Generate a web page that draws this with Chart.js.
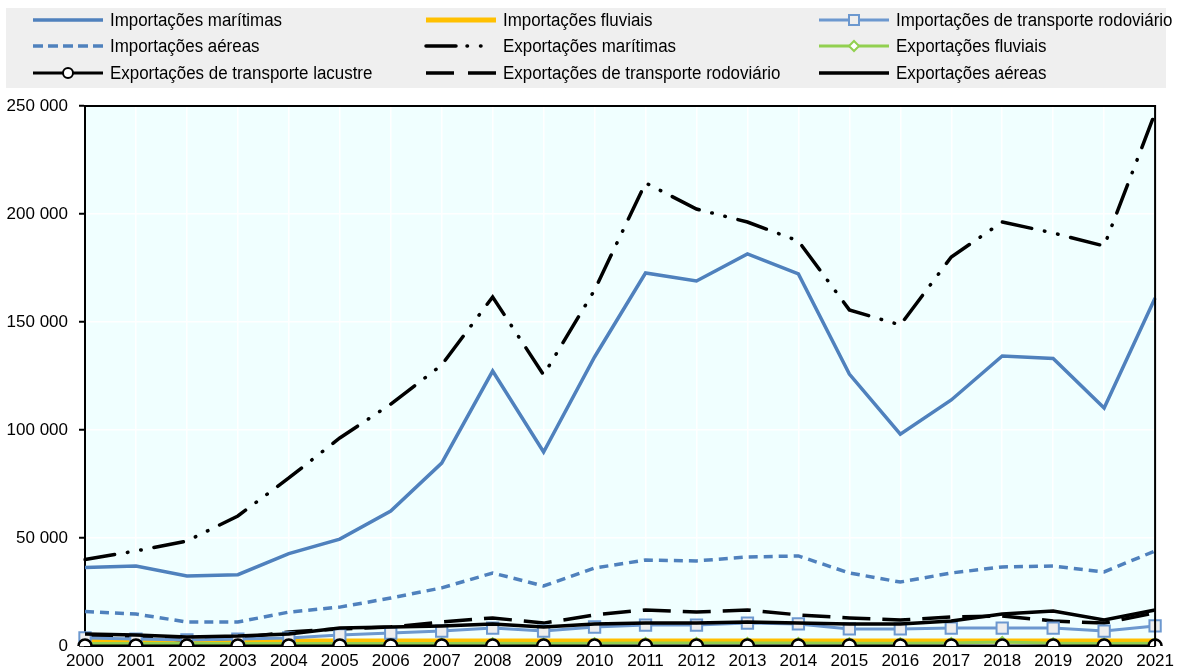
<!DOCTYPE html>
<html>
<head>
<meta charset="utf-8">
<script src="https://cdn.jsdelivr.net/npm/chart.js@4"></script>
<style>
  html, body { margin: 0; padding: 0; background: #fff; }
  #wrap { width: 1179px; height: 669px; position: relative; }
</style>
</head>
<body>
<div id="wrap"><canvas id="tradeChart"></canvas></div>
<script>
const years = ['2000','2001','2002','2003','2004','2005','2006','2007','2008','2009','2010',
  '2011','2012','2013','2014','2015','2016','2017','2018','2019','2020','2021'];

const impMaritimas = [36300, 37000, 32400, 33000, 42800, 49500, 62500, 84700, 127300, 89800, 133800,
  172700, 169000, 181500, 172300, 125900, 98100, 113900, 134300, 133100, 110200, 161100];
const impFluviais = [2300, 2300, 2300, 2300, 2300, 2300, 2300, 2300, 2300, 2300, 2300,
  2300, 2300, 2300, 2300, 2300, 2300, 2300, 2300, 2300, 2300, 2300];
const impRodoviario = [3700, 3200, 2800, 3200, 3700, 5100, 6000, 6900, 8300, 6900, 8800,
  9700, 9700, 10600, 10200, 7900, 7900, 8300, 8300, 8300, 6900, 9300];
const impAereas = [16000, 14800, 11100, 11100, 15700, 18000, 22200, 26900, 33800, 27800, 36100,
  39800, 39400, 41200, 41700, 33800, 29600, 33800, 36600, 37000, 34300, 44000];
const expMaritimas = [40000, 44000, 48600, 60200, 77800, 96300, 112000, 130100, 161600, 125500, 164800,
  214400, 202300, 196300, 187500, 155600, 148600, 180100, 196300, 191200, 185200, 246800];
const expFluviais = [1200, 1200, 1200, 1200, 1200, 1200, 1200, 1200, 1300, 1200, 1300,
  1400, 1400, 1400, 1400, 1300, 1300, 1400, 1900, 1300, 1200, 1300];
const expLacustre = [0, 0, 0, 0, 0, 0, 0, 0, 0, 0, 0,
  0, 0, 0, 0, 0, 0, 0, 0, 0, 0, 0];
const expRodoviario = [5000, 4200, 2800, 3700, 6500, 7900, 8800, 11100, 13000, 10600, 14400,
  16700, 15700, 16700, 14400, 13000, 12000, 13400, 13900, 11600, 10600, 15300];
const expAereas = [5600, 5100, 4200, 4600, 5600, 8300, 8800, 9300, 10200, 8800, 10200,
  10600, 10600, 11100, 10600, 10200, 10200, 11600, 14800, 16200, 12000, 16700];

const yTicks = [0, 50000, 100000, 150000, 200000, 250000];

const FONT = '"Liberation Sans", Arial, sans-serif';
const BLUE = '#4F81BD';
const BLUE_LIGHT = '#6C98CF';
const DOTDASH = [30, 13, 0.5, 13, 0.5, 13];

// legend sample dash patterns (fit the 70px swatch)
const legendDash = {
  'Importações aéreas': [10, 5],
  'Exportações marítimas': [30, 11, 0.5, 13, 0.5, 30],
  'Exportações de transporte rodoviário': [28, 14]
};

function line(label, data, color, width, dash, extra) {
  return Object.assign({
    label: label,
    data: data,
    borderColor: color,
    backgroundColor: color,
    borderWidth: width,
    borderDash: dash || [],
    borderCapStyle: dash === DOTDASH ? 'round' : 'butt',
    pointRadius: 0,
    tension: 0,
    fill: false
  }, extra || {});
}

const datasets = [
  line('Importações marítimas', impMaritimas, BLUE, 3.5, null, { order: 3 }),
  line('Importações fluviais', impFluviais, '#FFC000', 5, null, { order: 8 }),
  line('Importações de transporte rodoviário', impRodoviario, BLUE_LIGHT, 3, null, {
    order: 4, pointRadius: 8, pointStyle: 'rect', pointBackgroundColor: '#EEEEEE',
    pointBorderColor: BLUE_LIGHT, pointBorderWidth: 2 }),
  line('Importações aéreas', impAereas, BLUE, 3.5, [9, 6], { order: 5 }),
  line('Exportações marítimas', expMaritimas, '#000000', 3.5, DOTDASH, { order: 2 }),
  line('Exportações fluviais', expFluviais, '#92D050', 3, null, {
    order: 7, pointRadius: 5, pointStyle: 'rectRot', pointBackgroundColor: '#FFFFFF',
    pointBorderColor: '#92D050', pointBorderWidth: 2 }),
  line('Exportações de transporte lacustre', expLacustre, '#000000', 3, null, {
    order: 0, pointRadius: 6.5, pointStyle: 'circle', pointBackgroundColor: '#FFFFFF',
    pointBorderColor: '#000000', pointBorderWidth: 2.5 }),
  line('Exportações de transporte rodoviário', expRodoviario, '#000000', 3.5, [28, 12], { order: 6 }),
  line('Exportações aéreas', expAereas, '#000000', 3.5, null, { order: 1 })
];

// plot background and frame
const framePlugin = {
  id: 'frame',
  beforeDraw(chart) {
    const { ctx, chartArea: a } = chart;
    ctx.save();
    ctx.fillStyle = '#F0FFFF';
    ctx.fillRect(a.left, a.top, a.right - a.left, a.bottom - a.top);
    ctx.restore();
  },
  afterDatasetsDraw(chart) {
    const { ctx, chartArea: a } = chart;
    ctx.save();
    ctx.strokeStyle = '#000';
    ctx.lineWidth = 2;
    ctx.beginPath();
    ctx.moveTo(a.left, a.top);
    ctx.lineTo(a.right, a.top);
    ctx.lineTo(a.right, a.bottom);
    ctx.stroke();
    ctx.restore();
  }
};

// legend drawn as a 3x3 grid like the original
const legendPlugin = {
  id: 'gridLegend',
  afterDraw(chart) {
    const ctx = chart.ctx;
    const cols = [33, 426, 819];
    const rows = [20, 46, 73];
    ctx.save();
    ctx.fillStyle = '#EFEFEF';
    ctx.fillRect(6, 8, 1160, 80);
    chart.data.datasets.forEach((ds, i) => {
      const x = cols[i % 3];
      const y = rows[Math.floor(i / 3)];
      ctx.save();
      ctx.strokeStyle = ds.borderColor;
      ctx.lineWidth = ds.borderWidth;
      ctx.lineCap = ds.borderCapStyle === 'round' ? 'round' : 'butt';
      ctx.setLineDash(legendDash[ds.label] || []);
      ctx.beginPath();
      ctx.moveTo(x, y);
      ctx.lineTo(x + 70, y);
      ctx.stroke();
      ctx.setLineDash([]);
      if (ds.pointRadius > 0) {
        ctx.fillStyle = ds.pointBackgroundColor;
        ctx.strokeStyle = ds.pointBorderColor;
        ctx.lineWidth = 2;
        const cx = x + 35;
        ctx.beginPath();
        if (ds.pointStyle === 'rect') {
          ctx.rect(cx - 5, y - 5, 10, 10);
        } else if (ds.pointStyle === 'rectRot') {
          ctx.moveTo(cx, y - 5); ctx.lineTo(cx + 5, y); ctx.lineTo(cx, y + 5); ctx.lineTo(cx - 5, y); ctx.closePath();
        } else {
          ctx.arc(cx, y, 5, 0, Math.PI * 2);
        }
        ctx.fill();
        ctx.stroke();
      }
      ctx.restore();
      // slightly condensed text, like the original narrow face
      ctx.save();
      ctx.translate(x + 77, y + 1);
      ctx.scale(0.94, 1);
      ctx.fillStyle = '#000';
      ctx.font = '18px ' + FONT;
      ctx.textBaseline = 'middle';
      ctx.fillText(ds.label, 0, 0);
      ctx.restore();
    });
    ctx.restore();
  }
};

const ctx = document.getElementById('tradeChart').getContext('2d');
const chart = new Chart(ctx, {
  type: 'line',
  data: { labels: years, datasets: datasets },
  plugins: [framePlugin, legendPlugin],
  options: {
    responsive: true,
    maintainAspectRatio: false,
    animation: false,
    layout: { padding: { top: 106, right: 19, left: 0, bottom: 0 } },
    plugins: { legend: { display: false }, tooltip: { enabled: false } },
    scales: {
      x: {
        offset: false,
        grid: { color: '#FFFFFF', lineWidth: 1.5, drawTicks: false },
        border: { color: '#000', width: 2 },
        ticks: { color: '#000', font: { family: FONT, size: 17 }, padding: 5, maxRotation: 0, autoSkip: false },
        afterFit(scale) { scale.height = 23; }
      },
      y: {
        min: 0,
        max: 250000,
        afterBuildTicks(scale) { scale.ticks = yTicks.map(v => ({ value: v })); },
        grid: { color: '#FFFFFF', lineWidth: 1.5, tickColor: '#000', tickLength: 6, tickWidth: 2 },
        border: { color: '#000', width: 2 },
        ticks: {
          color: '#000',
          font: { family: FONT, size: 17 },
          padding: 11,
          callback: v => String(v).replace(/\B(?=(\d{3})+(?!\d))/g, ' ')
        },
        afterFit(scale) { scale.width = 85; }
      }
    }
  }
});
</script>
</body>
</html>
